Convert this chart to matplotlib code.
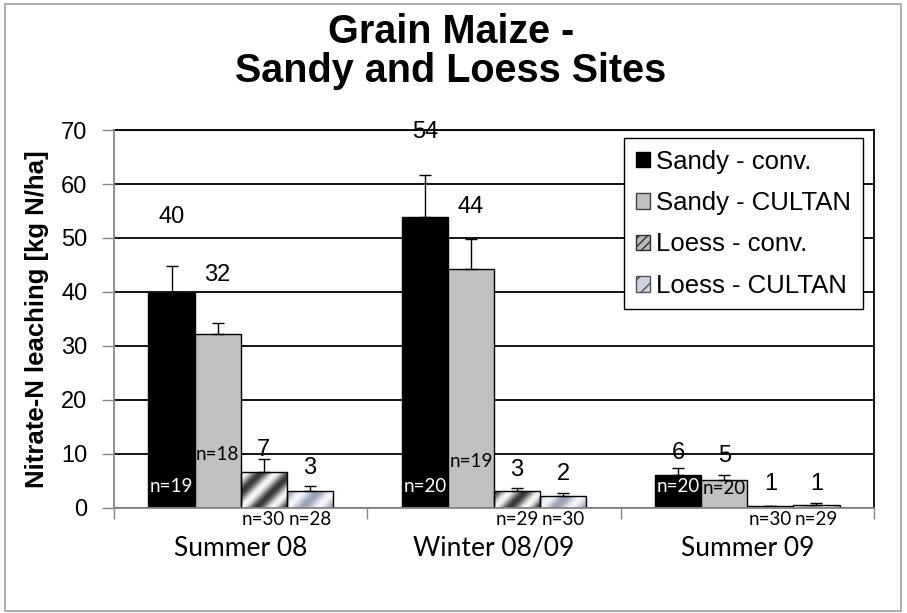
import numpy as np
import matplotlib.pyplot as plt
from matplotlib.patches import Patch, Rectangle

# data
seasons = ['Summer 08', 'Winter 08/09', 'Summer 09']
series = ['Sandy - conv.', 'Sandy - CULTAN', 'Loess - conv.', 'Loess - CULTAN']
sandy_conv = [39.9, 53.9, 6.2]
sandy_cultan = [32.2, 44.3, 5.2]
loess_conv = [6.6, 3.2, 0.3]
loess_cultan = [3.2, 2.2, 0.6]
err_sandy_conv = [5.0, 7.8, 1.2]
err_sandy_cultan = [2.1, 5.6, 0.9]
err_loess_conv = [2.4, 0.5, 0.1]
err_loess_cultan = [0.8, 0.6, 0.3]
value_labels = [['40', '54', '6'], ['32', '44', '5'], ['7', '3', '1'], ['3', '2', '1']]
n_sandy_conv = [19, 20, 20]
n_sandy_cultan = [18, 19, 20]
n_loess_conv = [30, 29, 30]
n_loess_cultan = [28, 30, 29]

values = [sandy_conv, sandy_cultan, loess_conv, loess_cultan]
errors = [err_sandy_conv, err_sandy_cultan, err_loess_conv, err_loess_cultan]
counts = [n_sandy_conv, n_sandy_cultan, n_loess_conv, n_loess_cultan]

# label heights (as in the original layout)
label_y = [[53.9, 69.7, 10.1], [43.1, 55.8, 9.6], [10.7, 7.0, 4.5], [7.4, 6.3, 4.5]]
n_label_y = [[3.9, 3.9, 3.9], [10.0, 8.6, 3.6], [-2.1, -2.1, -2.1], [-2.1, -2.1, -2.1]]

plt.rcParams['font.family'] = ['Liberation Sans', 'DejaVu Sans']

fig = plt.figure(figsize=(9.07, 6.13), dpi=100)
ax = fig.add_axes([114 / 907, 1 - 508 / 613, 760 / 907, 378 / 613])

x = np.arange(len(seasons))
width = 0.182
offsets = [-1.5 * width, -0.5 * width, 0.5 * width, 1.5 * width]


def gradient_fill(ax, bar, kind):
    # metallic diagonal fill, clipped to the bar
    x0, y0 = bar.get_x(), bar.get_y()
    w, h = bar.get_width(), bar.get_height()
    nx, ny = 46, max(int(h * 5.4), 2)
    px, py = np.meshgrid(np.arange(nx), np.arange(ny))
    t = 0.5 + 0.5 * np.cos(2 * np.pi * (px - py) / 30.0)
    if kind == 'conv':
        lo, hi = np.array([0.22, 0.22, 0.22]), np.array([0.97, 0.97, 0.97])
    else:
        lo, hi = np.array([0.60, 0.63, 0.72]), np.array([0.96, 0.96, 0.98])
    img = lo + (hi - lo) * t[..., None]
    im = ax.imshow(img, extent=(x0, x0 + w, y0, y0 + h), origin='lower',
                   aspect='auto', zorder=2, interpolation='bilinear')
    im.set_clip_path(bar)


face = ['black', '#c0c0c0', 'none', 'none']
for i in range(4):
    bars = ax.bar(x + offsets[i], values[i], width, color=face[i],
                  edgecolor='black', linewidth=1.0, zorder=3)
    if i >= 2:
        for b in bars:
            gradient_fill(ax, b, 'conv' if i == 2 else 'cultan')
    ax.errorbar(x + offsets[i], values[i], yerr=[np.zeros(3), errors[i]],
                fmt='none', ecolor='black', elinewidth=1, capsize=4,
                capthick=1, zorder=4)
    for j in range(3):
        ax.text(x[j] + offsets[i], label_y[i][j], value_labels[i][j],
                ha='center', va='center', fontsize=17, zorder=5)
        ax.text(x[j] + offsets[i], n_label_y[i][j], 'n=%d' % counts[i][j],
                ha='center', va='center', fontsize=13.5, family='Lato',
                color='white' if i == 0 else 'black', zorder=5, clip_on=False)

ax.set_xlim(-0.5, 2.5)
ax.set_ylim(0, 70)
ax.set_yticks(range(0, 71, 10))
ax.yaxis.grid(True, color='black', linewidth=1.3, zorder=0)
ax.set_axisbelow(True)

ax.set_xticks([-0.5, 0.5, 1.5, 2.5])
ax.set_xticklabels([])
ax.set_xticks(x, minor=True)
ax.set_xticklabels(seasons, minor=True, fontsize=19, family='Lato')
ax.tick_params(axis='x', which='major', length=8, color='#868686', width=1)
ax.tick_params(axis='x', which='minor', length=0, pad=20)
ax.tick_params(axis='y', length=9, color='#868686', width=1, labelsize=17, pad=10)

for s in ['left', 'bottom']:
    ax.spines[s].set_color('#868686')
    ax.spines[s].set_linewidth(1.3)
for s in ['top', 'right']:
    ax.spines[s].set_color('black')
    ax.spines[s].set_linewidth(1.3)
ax.spines['left'].set_zorder(6)
ax.spines['bottom'].set_zorder(6)

ax.set_ylabel('Nitrate-N leaching [kg N/ha]', fontsize=18.5, fontweight='bold', labelpad=9)

handles = [
    Patch(facecolor='black', edgecolor='black'),
    Patch(facecolor='#c0c0c0', edgecolor='#404040'),
    Patch(facecolor='#b8b8b8', edgecolor='#303030', hatch='////'),
    Patch(facecolor='#d0d3de', edgecolor='#505060', hatch='//'),
]
leg = ax.legend(handles, series, loc='upper right', bbox_to_anchor=(0.9855, 0.979),
                fontsize=18.5, frameon=True, fancybox=False, borderaxespad=0,
                handlelength=0.55, handleheight=0.55, handletextpad=0.25,
                labelspacing=0.68, borderpad=0.45)
leg.get_frame().set_edgecolor('black')
leg.get_frame().set_linewidth(1.0)
leg.get_frame().set_alpha(None)
leg.set_zorder(10)

fig.text(0.497, 0.947, 'Grain Maize -', ha='center', va='center',
         fontsize=28.5, fontweight='bold')
fig.text(0.497, 0.884, 'Sandy and Loess Sites', ha='center', va='center',
         fontsize=28.5, fontweight='bold')

fig.patches.append(Rectangle((5 / 907, 2 / 613), 896 / 907, 607 / 613,
                             transform=fig.transFigure, fill=False,
                             edgecolor='#a0a0a0', linewidth=1.2))

fig.savefig('out.png', dpi=100)
